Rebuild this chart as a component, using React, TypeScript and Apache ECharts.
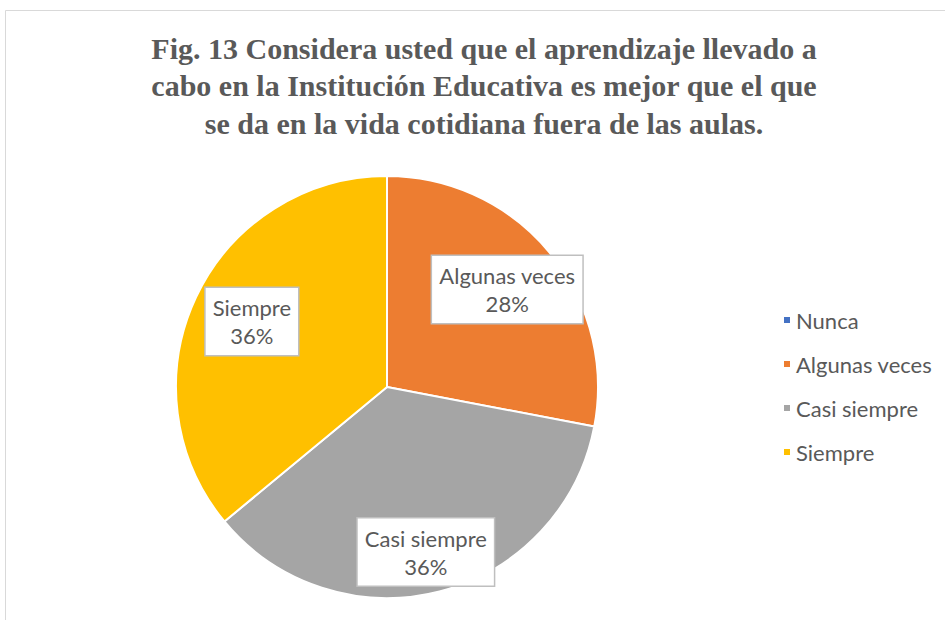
import React, { useEffect, useRef } from "react";
import * as echarts from "echarts";

const TITLE_LINES = [
  "Fig. 13 Considera usted que el aprendizaje llevado a",
  "cabo en la Institución Educativa es mejor que el que",
  "se da en la vida cotidiana fuera de las aulas.",
];
const categories = ["Nunca", "Algunas veces", "Casi siempre", "Siempre"];
const counts = [0, 7, 9, 9];
const colors = ["#4472C4", "#ED7D31", "#A5A5A5", "#FFC000"];

export default function App() {
  const ref = useRef<HTMLDivElement>(null);
  useEffect(() => {
    const chart = echarts.init(ref.current!, null, { renderer: "svg" });
    const data = categories.map((name, i) => ({
      name,
      value: counts[i],
      itemStyle: { color: colors[i] },
    }));
    const labelData = categories.map((name, i) => ({
      name,
      value: counts[i],
      label: { show: counts[i] > 0 },
    }));
    const titleTexts = TITLE_LINES.map((line, i) => ({
      type: "text",
      x: 484,
      y: 48 + i * 37.5,
      silent: true,
      style: {
        text: line,
        font: "bold 30px 'Liberation Serif'",
        fill: "#595959",
        textAlign: "center",
        textVerticalAlign: "middle",
        verticalAlign: "middle",
      },
    }));
    chart.setOption({
      animation: false,
      backgroundColor: "#ffffff",
      graphic: [
        {
          type: "rect",
          shape: { x: 5.5, y: 10.5, width: 1000, height: 700 },
          style: { fill: "none", stroke: "#d9d9d9", lineWidth: 1 },
          silent: true,
          z: -10,
        },
        ...titleTexts,
      ],
      legend: {
        orient: "vertical",
        left: 777,
        top: 304,
        itemWidth: 8,
        itemHeight: 8,
        itemGap: 22,
        icon: "rect",
        data: categories,
        textStyle: {
          fontFamily: "Lato",
          fontSize: 22,
          color: "#595959",
        },
      },
      series: [
        {
          type: "pie",
          center: [387, 387],
          radius: [0, 211],
          startAngle: 90,
          clockwise: true,
          label: { show: false },
          labelLine: { show: false },
          itemStyle: { borderColor: "#ffffff", borderWidth: 2 },
          emphasis: { disabled: true },
          data,
        },
        {
          type: "pie",
          center: [387, 387],
          radius: [95, 211],
          startAngle: 90,
          clockwise: true,
          silent: true,
          itemStyle: { color: "rgba(0,0,0,0)", borderWidth: 0 },
          emphasis: { disabled: true },
          labelLine: { show: false },
          label: {
            show: true,
            position: "inside",
            formatter: "{b}\n{d}%",
            fontFamily: "Lato",
            fontSize: 22,
            lineHeight: 28,
            color: "#595959",
            backgroundColor: "#ffffff",
            borderColor: "#bfbfbf",
            borderWidth: 1.5,
            padding: [5, 7, 6, 7],
            align: "center",
          },
          labelLayout: (params: any) =>
            params.dataIndex === 2
              ? { dy: 14, dx: 0 }
              : params.dataIndex === 3
              ? { dx: 6, dy: 1 }
              : { dy: 2 },
          data: labelData,
        },
      ],
    });
    return () => chart.dispose();
  }, []);
  return (
    <div
      ref={ref}
      style={{ position: "fixed", left: 0, top: 0, width: 945, height: 620 }}
    />
  );
}
